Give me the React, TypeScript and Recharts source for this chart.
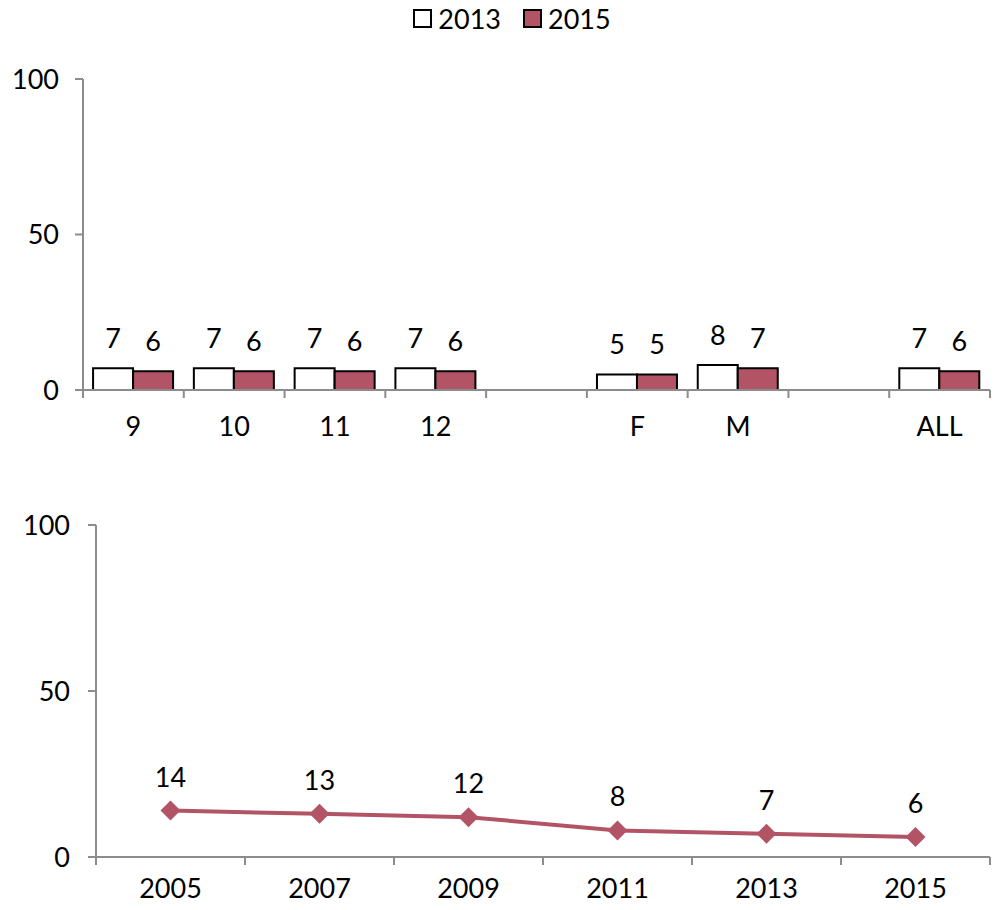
import React from 'react';
import {
  BarChart, Bar, ComposedChart, Line, XAxis, YAxis, Legend, LabelList,
} from 'recharts';

const groups = ['9', '10', '11', '12', ' ', 'F', 'M', '  ', 'ALL'];
const values2013 = [7, 7, 7, 7, null, 5, 8, null, 7];
const values2015 = [6, 6, 6, 6, null, 5, 7, null, 6];

const years = ['2005', '2007', '2009', '2011', '2013', '2015'];
const trend = [14, 13, 12, 8, 7, 6];

const yTicks = [0, 50, 100];

const RED = '#B35466';
const AXIS = '#8c8c8c';
const FONT = 'Lato, "Open Sans", sans-serif';
const FS = 27;

const barData = groups.map((g, i) => ({ group: g, y2013: values2013[i], y2015: values2015[i] }));
const lineData = years.map((y, i) => ({ year: y, value: trend[i] }));

const TOP_W = 994;
const TOP_LEFT = 83;
const TOP_RIGHT = 4;

// tick label at the centre, tick line at the left edge of each band
const makeTick = (count: number, plotWidth: number, labelDy: number) => (props: any) => {
  const { x, y, payload, index } = props;
  const band = plotWidth / count;
  const left = x - band / 2;
  return (
    <g>
      <line x1={left} y1={y - 8} x2={left} y2={y} stroke={AXIS} strokeWidth={2} />
      {index === count - 1 && (
        <line x1={left + band} y1={y - 8} x2={left + band} y2={y} stroke={AXIS} strokeWidth={2} />
      )}
      <text x={x} y={y + labelDy} textAnchor="middle" fontSize={FS} fontFamily={FONT} fill="#000">
        {payload.value}
      </text>
    </g>
  );
};

const Diamond = (props: any) => {
  const { cx, cy } = props;
  if (cx == null || cy == null) return null;
  const r = 10;
  return (
    <polygon
      points={`${cx},${cy - r} ${cx + r},${cy} ${cx},${cy + r} ${cx - r},${cy}`}
      fill={RED}
    />
  );
};

const LegendContent = () => (
  <div style={{ display: 'flex', justifyContent: 'center', alignItems: 'center', fontFamily: FONT, fontSize: FS, paddingLeft: 30 }}>
    <span style={{ width: 15, height: 15, border: '2px solid #000', background: '#fff', display: 'inline-block', marginRight: 6 }} />
    <span style={{ marginRight: 22 }}>2013</span>
    <span style={{ width: 15, height: 15, border: '2px solid #000', background: RED, display: 'inline-block', marginRight: 6 }} />
    <span>2015</span>
  </div>
);

export default function App() {
  return (
    <div style={{ position: 'absolute', left: 0, top: 0, width: 994, height: 910, background: '#fff' }}>
      <div style={{ position: 'absolute', left: 0, top: 0 }}>
        <BarChart
          width={TOP_W}
          height={460}
          data={barData}
          margin={{ top: 43, right: TOP_RIGHT, bottom: 20, left: 0 }}
          barCategoryGap="10%"
          barGap={0}
        >
          <Legend
            verticalAlign="top"
            content={<LegendContent />}
            wrapperStyle={{ top: 2, left: 0, width: TOP_W, height: 36 }}
          />
          <XAxis
            dataKey="group"
            height={50}
            axisLine={{ stroke: AXIS, strokeWidth: 2 }}
            tickLine={false}
            interval={0}
            tick={makeTick(groups.length, TOP_W - TOP_LEFT - TOP_RIGHT, 38)}
          />
          <YAxis
            width={TOP_LEFT}
            domain={[0, 100]}
            ticks={yTicks}
            axisLine={{ stroke: AXIS, strokeWidth: 2 }}
            tickLine={{ stroke: AXIS, strokeWidth: 2 }}
            tickSize={8}
            tickMargin={16}
            tick={{ fontSize: FS, fontFamily: FONT, fill: '#000' }}
          />
          <Bar dataKey="y2013" fill="#fff" stroke="#000" strokeWidth={2} isAnimationActive={false}>
            <LabelList dataKey="y2013" position="top" offset={20} fontSize={FS} fontFamily={FONT} fill="#000" />
          </Bar>
          <Bar dataKey="y2015" fill={RED} stroke="#000" strokeWidth={2} isAnimationActive={false}>
            <LabelList dataKey="y2015" position="top" offset={20} fontSize={FS} fontFamily={FONT} fill="#000" />
          </Bar>
        </BarChart>
      </div>
      <div style={{ position: 'absolute', left: 0, top: 460 }}>
        <ComposedChart
          width={994}
          height={450}
          data={lineData}
          margin={{ top: 65, right: 4, bottom: 0, left: 0 }}
        >
          <XAxis
            dataKey="year"
            scale="band"
            height={53}
            axisLine={{ stroke: AXIS, strokeWidth: 2 }}
            tickLine={false}
            interval={0}
            tick={makeTick(years.length, 994 - 96 - 4, 33)}
          />
          <YAxis
            width={96}
            domain={[0, 100]}
            ticks={yTicks}
            axisLine={{ stroke: AXIS, strokeWidth: 2 }}
            tickLine={{ stroke: AXIS, strokeWidth: 2 }}
            tickSize={8}
            tickMargin={18}
            tick={{ fontSize: FS, fontFamily: FONT, fill: '#000' }}
          />
          <Line
            dataKey="value"
            stroke={RED}
            strokeWidth={4}
            dot={<Diamond />}
            activeDot={false}
            isAnimationActive={false}
          >
            <LabelList dataKey="value" position="top" offset={24} fontSize={FS} fontFamily={FONT} fill="#000" />
          </Line>
        </ComposedChart>
      </div>
    </div>
  );
}
